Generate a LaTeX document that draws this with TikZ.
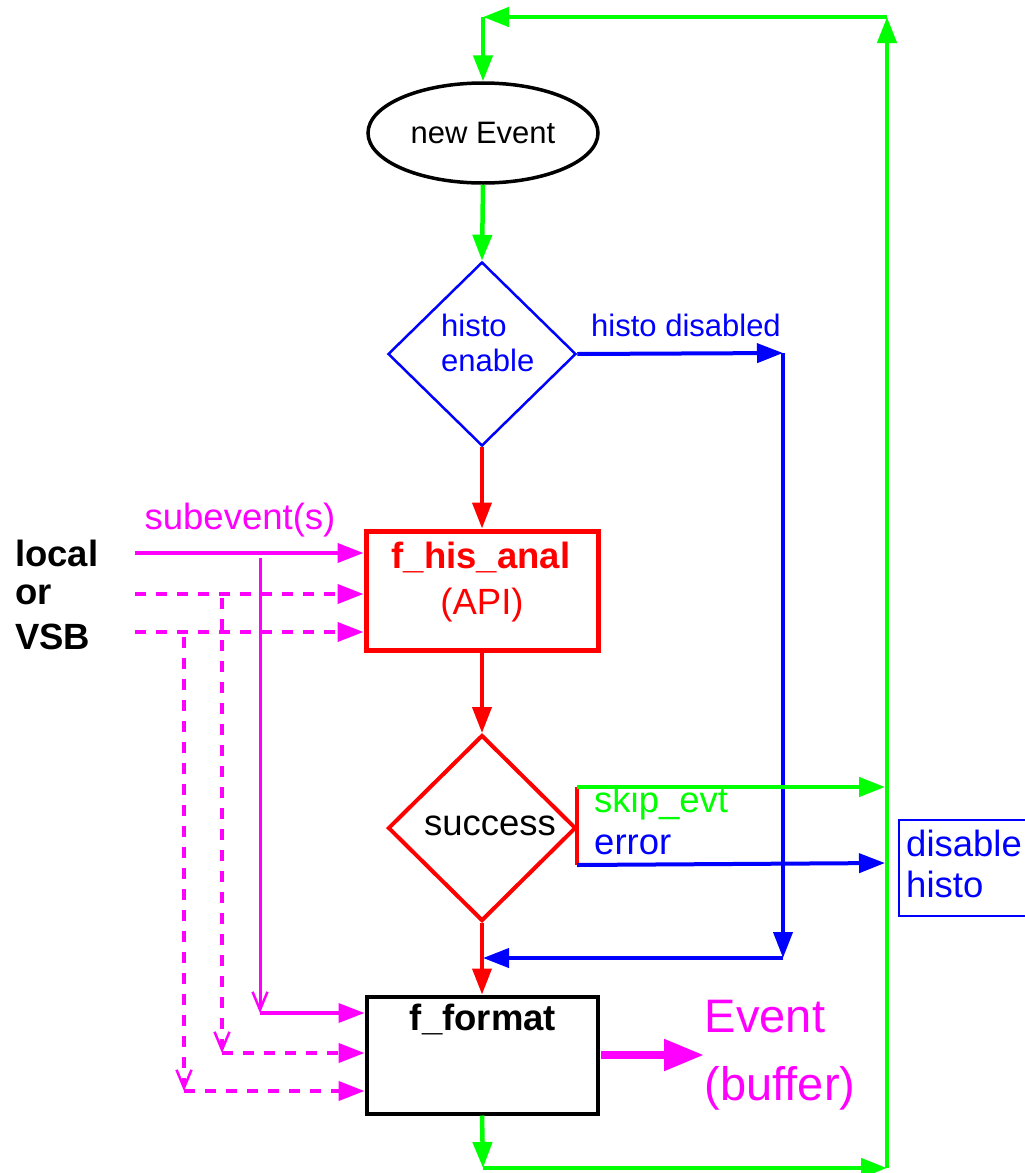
\documentclass[tikz,border=0pt]{standalone}
\usepackage{fontspec}
\setmainfont{Liberation Sans}
\usetikzlibrary{arrows.meta,shapes.geometric}
\definecolor{cgreen}{RGB}{0,255,0}
\definecolor{cblue}{RGB}{0,0,255}
\definecolor{cred}{RGB}{255,0,0}
\definecolor{cmag}{RGB}{255,0,255}
\tikzset{
  tip/.style={-{Triangle[length=26pt,width=19pt]}},
  barb/.style={-{Straight Barb[length=18pt,width=15pt,line width=2.5pt]}},
  gline/.style={draw=cgreen,line width=4.5pt,tip},
  bline/.style={draw=cblue,line width=4pt,tip},
  rline/.style={draw=cred,line width=4pt,tip},
  mline/.style={draw=cmag,line width=4pt,tip},
  mdash/.style={draw=cmag,line width=4pt,dash pattern=on 11pt off 10pt,tip},
  mvert/.style={draw=cmag,line width=3pt,barb},
  mvdash/.style={draw=cmag,line width=3.5pt,dash pattern=on 11pt off 10pt,barb},
  stxt/.style={inner sep=0pt,font=\fontsize{31}{35}\selectfont},
  txt/.style={inner sep=0pt,font=\fontsize{36.5}{41}\selectfont},
  btxt/.style={inner sep=0pt,font=\fontsize{36.5}{41}\selectfont\bfseries},
  bigtxt/.style={inner sep=0pt,font=\fontsize{47}{56}\selectfont},
}
\begin{document}
\begin{tikzpicture}[x=1pt,y=-1pt]
\useasboundingbox (0,0) rectangle (1025,1173);
% nodes
\node[ellipse,draw=black,line width=3.5pt,minimum width=230pt,minimum height=100pt,inner sep=0pt] (ev) at (483,133) {};
\node[stxt] (evt) at (483,133) {new Event};
\node[diamond,draw=cblue,line width=2.5pt,minimum width=188pt,minimum height=184pt,inner sep=0pt] (d1) at (482,354) {};
\node[stxt,text=cblue,align=left,anchor=west] (d1t) at (441,343) {histo\\enable};
\node[stxt,text=cblue] (hd) at (686,325) {histo disabled};
\node[draw=cred,line width=5pt,minimum width=232pt,minimum height=119pt,inner sep=0pt] (ana) at (482,590.5) {};
\node[btxt,text=cred] (anat) at (481,557) {f\_his\_anal};
\node[txt,text=cred] (api) at (482,605) {(API)};
\node[diamond,draw=cred,line width=4pt,minimum width=188pt,minimum height=186pt,inner sep=0pt] (d2) at (482,828) {};
\node[txt] (d2t) at (490,826) {success};
\node[txt,text=cgreen,anchor=west] (skip) at (594,803) {skip\_evt};
\node[txt,text=cblue,anchor=west] (err) at (594,845) {error};
\node[draw=cblue,line width=2pt,minimum width=134pt,minimum height=96pt,inner sep=0pt,anchor=north west] (dis) at (898,819) {};
\node[txt,text=cblue,align=left,anchor=west] (dist) at (906,864) {disable\\histo};
\node[draw=black,line width=4pt,minimum width=231pt,minimum height=117pt,inner sep=0pt] (fmt) at (482,1055) {};
\node[btxt] (fmtt) at (483,1019) {f\_format};
\node[bigtxt,text=cmag] (evb) at (765,1017) {Event};
\node[bigtxt,text=cmag] (buf) at (780,1088) {(buffer)};
\node[btxt,anchor=west] (loc) at (15,553) {local};
\node[btxt,anchor=west] (or) at (15,595) {or};
\node[btxt,anchor=west] (vsb) at (15,637) {VSB};
\node[txt,text=cmag] (sub) at (240,520) {subevent(s)};
% coordinates
\coordinate (tl) at (483,17);
\coordinate (tr) at (887,17);
\coordinate (bl) at (483,1168);
\coordinate (br) at (887,1168);
\coordinate (hdr) at (783,353);
\coordinate (hdb) at (783,958);
\coordinate (fmtin) at (483,958);
\coordinate (bart) at (577,787);
\coordinate (barb) at (577,865);
\coordinate (skipe) at (885,787);
\coordinate (erre) at (885,863);
\coordinate (s1) at (135,553);
\coordinate (s2) at (135,594);
\coordinate (s3) at (135,632);
\coordinate (v1t) at (260,558);
\coordinate (v1b) at (260,1013);
\coordinate (v2t) at (222,598);
\coordinate (v2b) at (222,1053);
\coordinate (v3t) at (184,637);
\coordinate (v3b) at (184,1091);
\coordinate (evbs) at (601,1055);
\coordinate (evbe) at (704,1055);
% green loop
\draw[gline] (tr) -- (tl);
\draw[gline] (tl) -- (ev.north);
\draw[gline] (ev.south) -- (d1.north);
\draw[gline] (fmt.south) -- (bl);
\draw[gline] (bl) -- (br);
\draw[gline] (br) -- (tr);
% blue
\draw[bline] (d1.east) -- (hdr);
\draw[bline] (hdr) -- (hdb);
\draw[bline] (hdb) -- (fmtin);
% red
\draw[rline] (d1.south) -- (ana.north);
\draw[rline] (ana.south) -- (d2.north);
\draw[rline] (d2.south) -- (fmt.north);
\draw[draw=cred,line width=4pt] (bart) -- (barb);
% outputs of success
\draw[gline] (bart) -- (skipe);
\draw[bline] (barb) -- (erre);
% magenta inputs
\draw[mline] (s1) -- (s1 -| ana.west);
\draw[mdash] (s2) -- (s2 -| ana.west);
\draw[mdash] (s3) -- (s3 -| ana.west);
\draw[mvert] (v1t) -- (v1b);
\draw[mvdash] (v2t) -- (v2b);
\draw[mvdash] (v3t) -- (v3b);
\draw[mline,line width=3.5pt] (v1b) -- (v1b -| fmt.west);
\draw[mdash] (v2b) -- (v2b -| fmt.west);
\draw[mdash] (v3b) -- (v3b -| fmt.west);
\draw[draw=cmag,line width=8pt,-{Triangle[length=40pt,width=30pt]}] (evbs) -- (evbe);
\end{tikzpicture}
\end{document}
